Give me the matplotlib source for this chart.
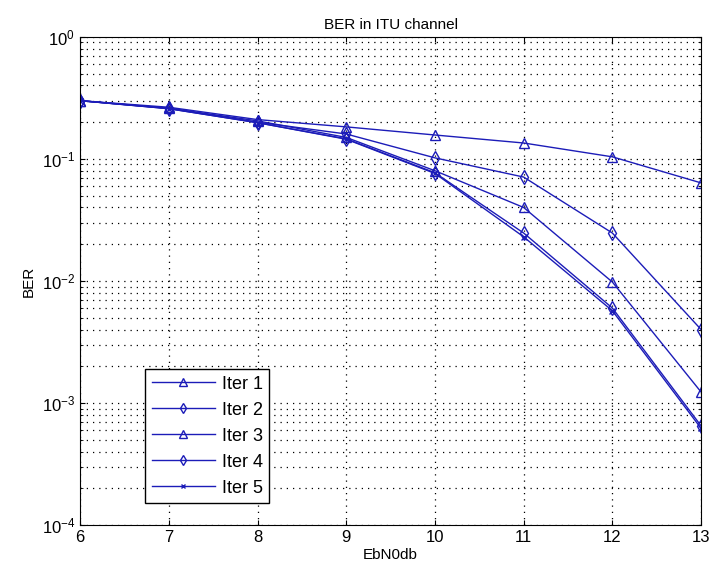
import numpy as np
import matplotlib.pyplot as plt

# BER values
ebn0 = [6, 7, 8, 9, 10, 11, 12, 13]
iter1 = [0.30, 0.265, 0.21, 0.183, 0.157, 0.135, 0.104, 0.0636]
iter2 = [0.30, 0.26, 0.20, 0.16, 0.102, 0.071, 0.0247, 0.0040]
iter3 = [0.30, 0.26, 0.205, 0.15, 0.08, 0.040, 0.0098, 0.00123]
iter4 = [0.30, 0.258, 0.198, 0.146, 0.077, 0.0247, 0.0060, 0.00065]
iter5 = [0.30, 0.258, 0.198, 0.145, 0.076, 0.023, 0.0057, 0.00062]

plt.rcParams['font.family'] = ['Liberation Sans', 'DejaVu Sans']

fig = plt.figure(figsize=(7.28, 5.76), dpi=100)
ax = fig.add_axes([0.11, 0.0885, 0.853, 0.8475])

col = '#1c1cb8'
kw = dict(color=col, lw=1.0, markerfacecolor='none', markeredgecolor=col, markersize=7)
ax.semilogy(ebn0, iter1, marker='^', label='Iter 1', **kw)
ax.semilogy(ebn0, iter2, marker='d', label='Iter 2', **kw)
ax.semilogy(ebn0, iter3, marker='^', label='Iter 3', **kw)
ax.semilogy(ebn0, iter4, marker='d', label='Iter 4', **kw)
ax.semilogy(ebn0, iter5, marker='x', label='Iter 5', **dict(kw, markersize=4))

ax.set_xlim(6, 13)
ax.set_ylim(1e-4, 1)
ax.set_xticks(ebn0)

# MATLAB-like dotted grid
dots = (0, (1, 4))
ax.grid(which='major', linestyle=dots, color='k', lw=0.9)
ax.grid(which='minor', axis='y', linestyle=dots, color='k', lw=0.9)
ax.tick_params(which='both', direction='in', top=True, right=True, labelsize=12)

ax.set_title('BER in ITU channel', fontsize=11)
ax.set_xlabel('EbN0db', fontsize=11, labelpad=2)
ax.set_ylabel('BER', fontsize=11)

leg = ax.legend(loc='lower left', bbox_to_anchor=(0.105, 0.045), borderaxespad=0,
                fancybox=False, edgecolor='k', framealpha=1, fontsize=13,
                handlelength=3.5, labelspacing=0.5, borderpad=0.35,
                handletextpad=0.4, markerscale=0.8)
leg.get_frame().set_linewidth(1.0)

plt.savefig('out.png')
